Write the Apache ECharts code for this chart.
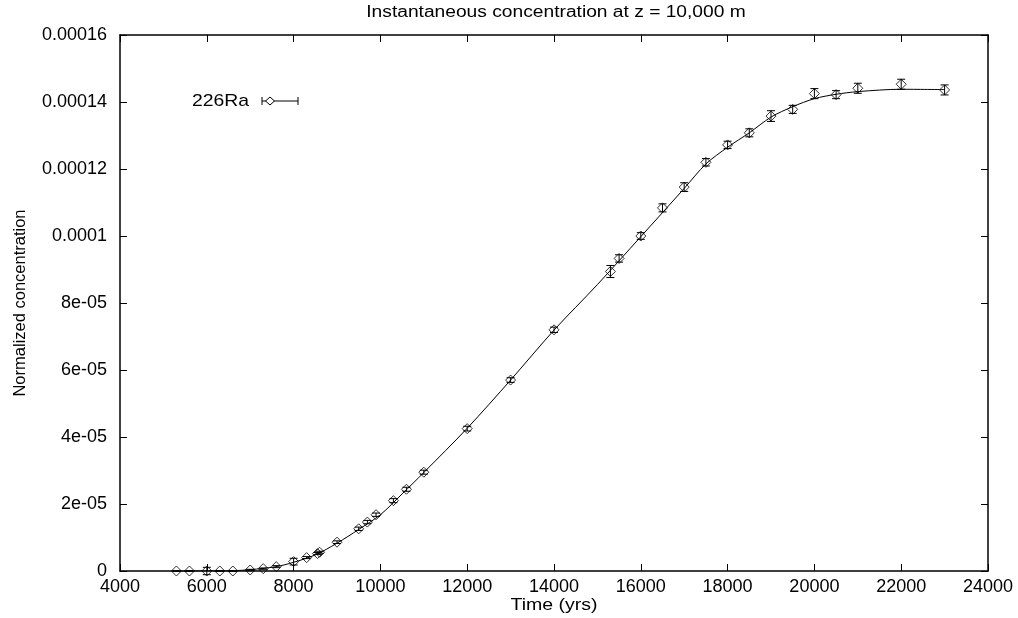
<!DOCTYPE html>
<html>
<head>
<meta charset="utf-8">
<script src="https://cdn.jsdelivr.net/npm/echarts@6/dist/echarts.min.js"></script>
<style>
html,body{margin:0;padding:0;background:#fff;}
#chart{width:1018px;height:618px;}
</style>
</head>
<body>
<div id="chart"></div>
<script>
// ---- data ----
var seriesName = '226Ra';
var timeYrs = [5300, 5600, 6000, 6300, 6600, 7000, 7300, 7600, 8000, 8300, 8550, 8600, 9000, 9500, 9700, 9900, 10300, 10600, 11000, 12000, 13000, 14000, 15300, 15500, 16000, 16500, 17000, 17500, 18000, 18500, 19000, 19500, 20000, 20500, 21000, 22000, 23000];
var concentration = [0, 0, 0, 0, 0, 0.0000003, 0.0000007, 0.0000013, 0.0000028, 0.000004, 0.0000052, 0.0000056, 0.0000086, 0.0000126, 0.0000146, 0.0000168, 0.000021, 0.0000244, 0.0000295, 0.0000425, 0.000057, 0.000072, 0.0000894, 0.0000933, 0.0001, 0.0001084, 0.0001146, 0.000122, 0.0001272, 0.0001308, 0.0001358, 0.0001378, 0.0001425, 0.0001422, 0.0001441, 0.0001453, 0.0001436];
var concError = [0.0000001, 0.0000001, 0.0000011, 0.0000001, 0.0000001, 0.0000002, 0.0000002, 0.0000003, 0.000001, 0.0000003, 0.0000003, 0.0000003, 0.0000004, 0.0000005, 0.0000005, 0.0000005, 0.0000006, 0.0000006, 0.0000006, 0.0000007, 0.0000007, 0.0000008, 0.0000018, 0.0000011, 0.000001, 0.0000012, 0.0000013, 0.0000011, 0.0000011, 0.0000012, 0.0000016, 0.0000012, 0.0000015, 0.0000012, 0.0000015, 0.0000015, 0.0000015];
var curveTime = [5300, 6000, 6600, 7000, 7600, 8000, 8500, 9000, 9500, 10000, 10500, 11000, 12000, 13000, 14000, 15000, 16000, 17000, 17500, 18000, 18500, 19000, 19500, 20000, 20500, 21000, 22000, 23000];
var curveConc = [0, 0, 0.0000001, 0.0000004, 0.0000013, 0.0000026, 0.0000048, 0.0000083, 0.0000124, 0.0000168, 0.000023, 0.0000294, 0.0000426, 0.000057, 0.0000719, 0.0000855, 0.0000998, 0.0001142, 0.0001215, 0.0001265, 0.0001308, 0.0001355, 0.0001386, 0.000141, 0.0001423, 0.0001431, 0.0001438, 0.0001437];
var xTickLabels = ['4000', '6000', '8000', '10000', '12000', '14000', '16000', '18000', '20000', '22000', '24000'];
var yTickLabels = ['0', '2e-05', '4e-05', '6e-05', '8e-05', '0.0001', '0.00012', '0.00014', '0.00016'];
var titleText = 'Instantaneous concentration at z = 10,000 m';
var xAxisTitle = 'Time (yrs)';
var yAxisTitle = 'Normalized concentration';

// ---- build ----
var FONT = '"Liberation Sans", Arial, Helvetica, sans-serif';
var pts = timeYrs.map(function (t, i) { return [t, concentration[i]]; });
var errData = timeYrs.map(function (t, i) { return [t, concentration[i] - concError[i], concentration[i] + concError[i]]; });
var curve = curveTime.map(function (t, i) { return [t, curveConc[i]]; });

var chart = echarts.init(document.getElementById('chart'), null, {renderer: 'canvas'});
var axisLineStyle = {color: '#000', width: 1.5};
var option = {
  backgroundColor: '#fff',
  animation: false,
  grid: {left: 120, right: 30, top: 35, bottom: 47, containLabel: false},
  xAxis: [{
    type: 'value', min: 4000, max: 24000, interval: 2000,
    position: 'bottom',
    axisLine: {show: true, onZero: false, lineStyle: axisLineStyle},
    axisTick: {show: true, inside: true, length: 7, lineStyle: {color: '#000', width: 1}},
    axisLabel: {fontFamily: FONT, fontSize: 18, color: '#000', margin: 7,
      formatter: function (v) { return xTickLabels[Math.round((v - 4000) / 2000)]; }},
    splitLine: {show: false}
  }, {
    type: 'value', min: 4000, max: 24000, interval: 2000,
    position: 'top',
    axisLine: {show: true, onZero: false, lineStyle: axisLineStyle},
    axisTick: {show: true, inside: true, length: 7, lineStyle: {color: '#000', width: 1}},
    axisLabel: {show: false}, splitLine: {show: false}
  }],
  yAxis: [{
    type: 'value', min: 0, max: 0.00016, interval: 0.00002,
    position: 'left',
    axisLine: {show: true, onZero: false, lineStyle: axisLineStyle},
    axisTick: {show: true, inside: true, length: 7, lineStyle: {color: '#000', width: 1}},
    axisLabel: {fontFamily: FONT, fontSize: 18, color: '#000', margin: 13,
      formatter: function (v) { return yTickLabels[Math.round(v / 0.00002)]; }},
    splitLine: {show: false},
    name: yAxisTitle, nameLocation: 'middle', nameGap: 91, nameRotate: 90,
    nameTextStyle: {fontFamily: FONT, fontSize: 16.5, color: '#000'}
  }, {
    type: 'value', min: 0, max: 0.00016, interval: 0.00002,
    position: 'right',
    axisLine: {show: true, onZero: false, lineStyle: axisLineStyle},
    axisTick: {show: true, inside: true, length: 7, lineStyle: {color: '#000', width: 1}},
    axisLabel: {show: false}, splitLine: {show: false}
  }],
  graphic: [
    {type: 'text', x: 556, y: 13, scaleX: 1.2, style: {text: titleText, font: '16px ' + FONT, fill: '#000', textAlign: 'center', textVerticalAlign: 'middle'}},
    {type: 'text', x: 554, y: 606, scaleX: 1.22, style: {text: xAxisTitle, font: '16px ' + FONT, fill: '#000', textAlign: 'center', textVerticalAlign: 'middle'}},
    {type: 'text', x: 249, y: 101, scaleX: 1.14, style: {text: seriesName, font: '17px ' + FONT, fill: '#000', textAlign: 'right', textVerticalAlign: 'middle'}},
    {type: 'line', shape: {x1: 262, y1: 101, x2: 298, y2: 101}, style: {stroke: '#000', lineWidth: 1}},
    {type: 'line', shape: {x1: 262, y1: 97, x2: 262, y2: 105}, style: {stroke: '#000', lineWidth: 1}},
    {type: 'line', shape: {x1: 298, y1: 97, x2: 298, y2: 105}, style: {stroke: '#000', lineWidth: 1}},
    {type: 'polygon', shape: {points: [[270, 97], [274.5, 101], [270, 105], [265.5, 101]]}, style: {stroke: '#000', fill: '#fff', lineWidth: 1}}
  ],
  series: [
    {
      name: 'fit', type: 'line', data: curve, xAxisIndex: 0, yAxisIndex: 0,
      showSymbol: false, smooth: 0.3,
      lineStyle: {color: '#000', width: 1}, z: 2
    },
    {
      name: 'err', type: 'custom', xAxisIndex: 0, yAxisIndex: 0, data: errData, z: 3,
      renderItem: function (params, api) {
        var x = api.value(0);
        var lo = api.coord([x, api.value(1)]);
        var hi = api.coord([x, api.value(2)]);
        var w = 4;
        var s = {stroke: '#000', lineWidth: 1};
        return {type: 'group', children: [
          {type: 'line', shape: {x1: lo[0], y1: lo[1], x2: hi[0], y2: hi[1]}, style: s},
          {type: 'line', shape: {x1: lo[0] - w, y1: lo[1], x2: lo[0] + w, y2: lo[1]}, style: s},
          {type: 'line', shape: {x1: hi[0] - w, y1: hi[1], x2: hi[0] + w, y2: hi[1]}, style: s}
        ]};
      }
    },
    {
      name: seriesName, type: 'scatter', data: pts, xAxisIndex: 0, yAxisIndex: 0,
      symbol: 'diamond', symbolSize: [10, 10],
      itemStyle: {color: 'rgba(255,255,255,0)', borderColor: '#000', borderWidth: 1}, z: 4
    }
  ]
};
chart.setOption(option);
</script>
</body>
</html>
